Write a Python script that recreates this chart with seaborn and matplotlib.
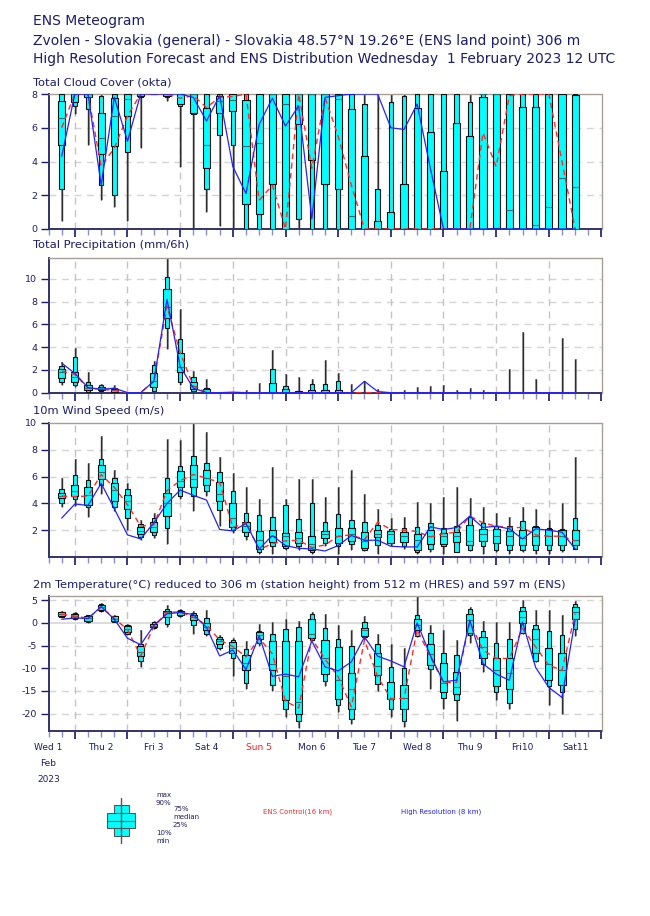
import numpy as np
import pandas as pd
import matplotlib
matplotlib.use("Agg")
import matplotlib.pyplot as plt
import matplotlib.transforms as mtransforms
from matplotlib.patches import Rectangle
import seaborn as sns

# ---------------- data ----------------
hours = list(range(6, 246, 6))  # hours after Wed 1 Feb 2023 12 UTC (40 steps)
day_labels = ["Wed 1", "Thu 2", "Fri 3", "Sat 4", "Sun 5", "Mon 6", "Tue 7",
              "Wed 8", "Thu 9", "Fri10", "Sat11"]

# Total cloud cover (okta)
cc_min = [0.45, 6.8, 4.95, 1.7, 1.3, 0.45, 4.8, 8, 7.6, 3.7, 0, 1.0, 0.2, 0, 0, 0, 0, 0, 0, 0,
          0, 0, 0, 0, 0, 0, 0, 0, 0, 0, 0, 0, 0, 0, 0, 0, 0, 0, 0, 0]
cc_p10 = [2.4, 7.3, 7.1, 2.6, 2.0, 4.55, 7.8, 8, 7.8, 7.3, 6.8, 2.35, 5.6, 4.95, 0, 0, 0, 0, 0.6, 0,
          0, 0, 0, 0, 0, 0, 0, 0, 0, 0, 0, 0, 0, 0, 0, 0, 0, 0, 0, 0]
cc_p25 = [5.0, 7.5, 7.8, 4.45, 4.9, 6.7, 7.9, 8, 7.9, 7.4, 6.85, 3.6, 6.85, 7.0, 1.5, 0.9, 2.65, 0, 6.2, 4.1,
          2.65, 2.4, 0, 0, 0, 0, 0, 0, 0, 0, 0, 0, 0, 0.05, 0, 0, 0, 0, 0, 0]
cc_med = [6.6, 8, 8, 5.4, 6.7, 7.7, 8, 8, 8, 8, 8, 5.0, 7.6, 7.65, 4.9, 5.1, 8, 7.4, 8, 8,
          8, 7.7, 0.8, 0, 0, 0, 0, 0, 0, 0, 0, 0, 8, 8, 1.1, 0, 0.25, 1.3, 3.0, 2.5]
cc_p75 = [7.6, 8, 8, 6.9, 7.75, 8, 8, 8, 8, 8, 8, 7.2, 7.9, 8, 7.65, 8, 8, 8, 8, 8,
          8, 8, 7.1, 4.3, 0.45, 1.0, 2.65, 7.2, 5.75, 3.45, 6.3, 5.5, 7.85, 8, 8, 7.25, 7.25, 8, 8, 7.95]
cc_p90 = [8, 8, 8, 7.9, 8, 8, 8, 8, 8, 8, 8, 8, 8, 8, 8, 8, 8, 8, 8, 8,
          8, 8, 8, 7.4, 2.4, 7.5, 7.9, 8, 8, 8, 8, 7.5, 8, 8, 8, 8, 8, 8, 8, 8]
cc_max = [8] * 40
cc_ctrl = [6.0, 8, 8, 3.7, 4.8, 6.7, 8, 8, 8, 7.75, 7.9, 7.2, 7.8, 7.85, 8, 1.7, 2.6, 0, 8, 3.6,
           7.8, 5.5, 2.6, 0, 0, 0, 0, 0, 0, 0, 0, 0, 5.7, 3.7, 7.9, 8, 8, 8, 4.0, 0]
cc_hres = [4.3, 8, 8, 2.6, 7.8, 5.2, 8, 8, 8, 8, 7.8, 6.4, 7.9, 3.7, 2.1, 6.2, 7.75, 6.1, 7.3, 0.6,
           7.8, 7.9, 8, 8, 8, 6.0, 5.9, 7.4, 3.6, 0, 0, 0, 0, 0, 0, 0, 0, 0, 0, 0]

# Total precipitation (mm/6h)
pr_min = [0.7, 0.5, 0, 0, 0, 0, 0, 0, 3.8, 0.7, 0, 0, 0, 0, 0, 0, 0, 0, 0, 0,
          0, 0, 0, 0, 0, 0, 0, 0, 0, 0, 0, 0, 0, 0, 0, 0, 0, 0, 0, 0]
pr_p10 = [0.95, 0.65, 0.1, 0.15, 0.05, 0, 0, 0.15, 5.7, 0.95, 0.15, 0, 0, 0, 0, 0, 0, 0, 0, 0,
          0, 0, 0, 0, 0, 0, 0, 0, 0, 0, 0, 0, 0, 0, 0, 0, 0, 0, 0, 0]
pr_p25 = [1.3, 0.95, 0.25, 0.25, 0.1, 0, 0, 0.5, 6.6, 1.85, 0.3, 0, 0, 0, 0, 0, 0, 0, 0, 0,
          0, 0, 0, 0, 0, 0, 0, 0, 0, 0, 0, 0, 0, 0, 0, 0, 0, 0, 0, 0]
pr_med = [1.85, 1.4, 0.4, 0.35, 0.2, 0, 0, 1.0, 7.55, 2.3, 0.6, 0.1, 0, 0, 0, 0, 0.05, 0.05, 0, 0,
          0, 0, 0, 0, 0, 0, 0, 0, 0, 0, 0, 0, 0, 0, 0, 0, 0, 0, 0, 0]
pr_p75 = [2.05, 1.85, 0.65, 0.5, 0.3, 0, 0, 1.7, 9.1, 3.45, 0.95, 0.3, 0, 0, 0, 0, 0.85, 0.3, 0.15, 0.25,
          0.2, 0.25, 0, 0, 0, 0, 0, 0, 0, 0, 0, 0, 0, 0, 0, 0, 0, 0, 0, 0]
pr_p90 = [2.35, 3.15, 0.95, 0.65, 0.45, 0, 0, 2.4, 10.15, 4.7, 1.4, 0.45, 0, 0, 0, 0, 2.05, 0.55, 0.15, 0.75,
          0.8, 1.0, 0, 0, 0, 0, 0, 0.05, 0.05, 0, 0, 0, 0, 0, 0, 0, 0, 0, 0, 0]
pr_max = [2.7, 3.9, 1.8, 0.8, 0.7, 0, 0, 2.8, 11.9, 7.35, 1.9, 1.2, 0, 0.1, 0.2, 0.85, 3.75, 1.65, 1.4, 1.2,
          2.85, 1.7, 0.8, 1.0, 0.3, 0, 0.2, 0.5, 0.55, 0.65, 0.2, 0.45, 0.2, 0.1, 2.1, 5.35, 1.2, 0, 4.8, 2.95]
pr_ctrl = [1.9, 1.6, 0.4, 0.3, 0.2, 0, 0, 1.0, 7.6, 3.5, 0.6, 0, 0, 0, 0, 0, 0, 0, 0, 0,
           0, 0, 0, 0, 0, 0, 0, 0, 0, 0, 0, 0, 0, 0, 0, 0, 0, 0, 0, 0]
pr_hres = [2.6, 1.7, 0.45, 0.3, 0.4, 0, 0, 1.0, 8.2, 2.3, 0.4, 0, 0, 0.05, 0, 0, 0, 0, 0, 0,
           0, 0, 0, 1.0, 0.1, 0, 0, 0, 0, 0, 0, 0, 0, 0, 0, 0, 0, 0, 0, 0]

# 10m wind speed (m/s)
ws_min = [3.75, 3.8, 3.0, 4.7, 3.45, 2.0, 1.3, 1.4, 1.0, 4.3, 3.4, 4.55, 2.35, 1.8, 1.3, 0.25, 0.25, 0.5, 0.5, 0.25,
          0.8, 0.25, 0.5, 0.45, 0.25, 0.8, 0.6, 0.25, 0.35, 0.25, 0.35, 0.45, 0.25, 0.35, 0.25, 0.35, 0.25, 0.25, 0.35, 0.8]
ws_p10 = [4.05, 4.35, 3.75, 5.35, 3.75, 2.9, 1.5, 1.65, 2.15, 4.55, 4.55, 4.9, 3.5, 2.0, 1.55, 0.4, 0.8, 0.7, 0.8, 0.35,
          1.05, 0.8, 1.0, 0.5, 0.9, 1.05, 0.8, 0.4, 0.6, 0.8, 0.4, 0.55, 0.8, 0.55, 0.55, 0.55, 0.55, 0.55, 0.55, 0.6]
ws_p25 = [4.4, 4.55, 3.85, 5.8, 4.15, 3.55, 1.7, 1.9, 3.05, 5.25, 5.2, 5.35, 4.2, 2.25, 1.9, 0.6, 1.15, 0.8, 1.05, 0.55,
          1.4, 1.05, 1.2, 0.7, 1.5, 1.05, 1.1, 0.55, 0.95, 0.95, 1.1, 0.9, 1.2, 1.05, 0.9, 0.9, 0.9, 0.9, 0.9, 0.9]
ws_med = [4.55, 4.9, 4.6, 6.35, 5.0, 4.2, 1.95, 2.25, 4.0, 5.65, 5.8, 5.9, 4.7, 2.9, 2.3, 1.3, 1.55, 1.55, 1.45, 1.0,
          1.7, 1.55, 1.7, 1.2, 1.7, 1.7, 1.55, 1.3, 1.55, 1.55, 1.55, 1.2, 1.7, 1.55, 1.55, 1.4, 1.55, 1.55, 1.55, 1.3]
ws_p75 = [4.75, 5.4, 5.25, 6.85, 5.55, 4.6, 2.25, 2.6, 4.8, 6.4, 6.9, 6.5, 5.6, 4.0, 2.6, 1.95, 2.0, 1.8, 1.85, 1.6,
          1.95, 2.2, 2.2, 1.9, 2.0, 1.95, 1.85, 1.7, 2.0, 1.8, 1.85, 2.4, 2.1, 2.1, 1.95, 2.0, 2.25, 2.1, 2.0, 2.0]
ws_p90 = [5.05, 6.15, 5.75, 7.3, 5.9, 5.05, 2.5, 2.9, 5.9, 6.8, 7.55, 7.05, 6.35, 4.9, 3.3, 3.15, 2.95, 3.85, 2.85, 4.05,
          2.6, 3.2, 2.75, 2.6, 2.4, 2.1, 2.2, 2.25, 2.55, 2.2, 2.35, 3.0, 2.55, 2.3, 2.3, 2.7, 2.35, 2.2, 2.1, 2.9]
ws_max = [5.9, 7.3, 7.0, 9.05, 6.5, 5.55, 2.75, 3.3, 8.8, 8.7, 10.2, 9.3, 7.45, 6.3, 5.2, 4.35, 6.7, 4.3, 5.8, 5.8,
          4.5, 5.25, 6.5, 4.7, 3.6, 2.9, 2.95, 4.1, 4.0, 4.5, 5.2, 4.4, 3.7, 3.3, 2.95, 3.7, 3.55, 2.75, 4.05, 7.5]
ws_ctrl = [4.55, 4.5, 4.55, 6.15, 5.2, 3.9, 2.3, 2.4, 4.95, 5.7, 6.15, 5.9, 5.55, 2.2, 2.55, 0.55, 1.0, 1.2, 1.25, 0.7,
           0.9, 1.55, 1.65, 1.3, 2.6, 2.05, 2.0, 1.9, 1.5, 1.75, 1.85, 3.05, 2.55, 2.3, 2.2, 2.2, 1.65, 1.55, 1.55, 1.2]
ws_hres = [2.9, 3.95, 3.85, 5.5, 3.6, 1.65, 1.35, 2.55, 4.0, 5.0, 4.6, 4.25, 2.05, 1.95, 2.5, 0.6, 1.6, 0.85, 0.65, 0.6,
           0.45, 0.85, 1.6, 1.25, 1.25, 0.8, 0.75, 0.75, 2.25, 2.05, 2.2, 3.05, 2.2, 2.3, 2.1, 1.35, 2.1, 2.0, 1.85, 0.6]

# 2m temperature (deg C)
t_min = [1.2, 0.7, 0.0, 2.4, 0.1, -2.6, -9.7, -1.4, -1.0, 1.3, -2.35, -2.95, -6.0, -11.75, -14.65, -5.05, -15.0, -20.75, -23.1, -3.95,
         -14.0, -19.6, -22.35, -3.8, -15.0, -20.75, -22.95, -3.1, -14.7, -19.1, -21.6, -4.4, -10.8, -17.05, -19.05, -2.35, -8.6, -18.15, -20.0, -2.95]
t_p10 = [1.4, 0.9, 0.2, 2.6, 0.3, -2.35, -8.4, -1.2, -0.15, 1.5, -0.4, -2.35, -5.65, -7.65, -13.25, -4.35, -13.8, -19.1, -21.6, -3.8,
         -12.8, -18.15, -21.25, -3.1, -13.5, -18.9, -21.6, -2.95, -10.2, -16.5, -17.05, -2.7, -9.1, -15.2, -17.6, -2.15, -8.4, -13.9, -15.2, -1.25]
t_p25 = [1.55, 1.1, 0.45, 2.8, 0.45, -2.0, -7.35, -1.0, 1.2, 1.75, 0.6, -1.6, -4.55, -6.6, -10.45, -3.6, -10.3, -17.05, -20.15, -3.3,
         -11.3, -16.9, -19.1, -2.85, -11.55, -16.9, -19.1, -1.6, -9.35, -15.35, -15.8, -2.15, -7.85, -13.9, -14.5, 0.05, -6.6, -12.65, -13.6, 0.8]
t_med = [1.9, 1.5, 1.0, 3.4, 0.95, -1.3, -6.4, -0.6, 2.4, 2.3, 1.3, -0.9, -3.95, -5.65, -8.95, -2.7, -9.0, -11.75, -17.4, -2.35,
         -7.65, -12.65, -14.5, -1.6, -9.55, -16.7, -16.55, -0.5, -6.8, -13.2, -14.25, 0.6, -5.3, -10.5, -11.0, 1.3, -3.5, -9.0, -10.3, 2.4]
t_p75 = [2.3, 1.9, 1.55, 3.9, 1.45, -0.75, -5.15, -0.15, 2.65, 2.7, 1.85, 0.0, -3.5, -4.25, -7.1, -2.05, -3.95, -3.95, -3.95, 0.75,
         -3.7, -5.3, -10.95, -1.05, -6.6, -13.0, -13.75, 0.95, -4.55, -8.75, -10.8, 2.05, -3.1, -7.85, -7.85, 2.55, -1.25, -5.45, -6.55, 3.55]
t_p90 = [2.45, 2.1, 1.7, 4.1, 1.55, -0.4, -4.55, 0.15, 3.15, 2.95, 2.2, 1.1, -3.1, -3.7, -5.8, -1.75, -2.35, -1.25, -0.9, 2.05,
         -1.05, -3.6, -5.05, 0.2, -4.55, -9.7, -9.85, 1.7, -2.2, -6.6, -7.0, 3.0, -1.75, -4.35, -3.45, 3.4, -0.5, -1.85, -2.7, 4.25]
t_max = [2.65, 2.3, 1.85, 4.4, 1.7, -0.15, -1.6, 0.35, 3.9, 3.15, 2.65, 2.95, -2.7, -3.3, -3.95, -0.35, 0.2, 0.75, 0.35, 2.4,
         1.9, -0.5, -1.6, 1.5, -2.35, -4.7, -5.65, 5.9, -0.5, -1.6, -3.8, 3.5, 0.45, 0.2, 0.2, 5.0, 2.95, 2.8, 1.7, 4.85]
t_ctrl = [1.9, 1.5, 1.0, 3.5, 1.0, -1.5, -7.3, -0.8, 2.35, 2.4, 1.3, -0.5, -3.8, -5.2, -7.5, -3.4, -6.8, -17.3, -18.8, -3.5,
          -8.0, -11.9, -18.5, -3.8, -11.9, -16.7, -16.7, -1.45, -7.5, -13.15, -13.15, 0.2, -6.0, -7.85, -7.85, -1.25, -5.3, -9.35, -10.45, 2.05]
t_hres = [0.8, 1.1, 0.95, 3.6, 0.8, -3.4, -4.8, -0.6, 2.0, 2.3, 1.85, -1.0, -7.3, -6.0, -10.3, -2.8, -11.8, -11.3, -11.9, -4.0,
          -9.7, -10.6, -8.6, -3.1, -7.35, -8.4, -9.7, 0.0, -7.2, -13.0, -12.65, 0.6, -9.0, -11.3, -12.65, 0.2, -9.85, -14.25, -16.45, 0.75]

# ---------------- style ----------------
sns.set_theme(style="white")
plt.rcParams['font.family'] = ['DejaVu Sans']

NAVY = '#1c1c6c'
W, H = 650, 916
fig = plt.figure(figsize=(6.5, 9.16), dpi=100)


def fx(px):
    return px / W


def fy(py):
    return 1 - py / H


def make_ax(top, bottom):
    return fig.add_axes([fx(48.5), fy(bottom), fx(601.5) - fx(48.5), (bottom - top) / H])


def draw_panel(ax, mn, p10, p25, med, p75, p90, mx, ctrl, hres, ylim, yticks, zero_line=False):
    x = np.array(hours, dtype=float)
    mn, p10, p25, med, p75, p90, mx = [np.array(a, dtype=float) for a in (mn, p10, p25, med, p75, p90, mx)]
    ax.set_xlim(0, 252)
    ax.set_ylim(*ylim)
    # whiskers and boxes
    ax.vlines(x + 0.35, mn, mx, colors='#9a9a9a', lw=1.4, zorder=2)
    ax.vlines(x, mn, mx, colors='#2e2e2e', lw=1.0, zorder=2)
    ax.bar(x, p90 - p10, bottom=p10, width=2.1, color='#00ffff', edgecolor='#111111', lw=0.8, zorder=3)
    ax.bar(x, p75 - p25, bottom=p25, width=3.3, color='#00ffff', edgecolor='#111111', lw=0.8, zorder=3)
    ax.hlines(med, x - 1.65, x + 1.65, colors='#2a6f6f', lw=0.8, zorder=4)
    df = pd.DataFrame({'hour': x, 'ctrl': ctrl, 'hres': hres})
    sns.lineplot(data=df, x='hour', y='ctrl', ax=ax, color='#ff2a2a', lw=1.0,
                 linestyle=(0, (4, 3)), zorder=5)
    sns.lineplot(data=df, x='hour', y='hres', ax=ax, color='#2323ff', lw=0.9, zorder=6)
    ax.set_xlabel('')
    ax.set_ylabel('')
    # ticks & grid
    ax.set_yticks(yticks)
    ax.set_yticklabels([str(t) for t in yticks])
    ax.set_xticks(list(range(12, 253, 24)))
    ax.set_xticks(list(range(0, 253, 6)), minor=True)
    ax.set_xticklabels([])
    ax.tick_params(axis='y', which='major', direction='out', length=6, width=1.0,
                   color=NAVY, labelcolor=NAVY, labelsize=6.8, pad=2, left=True)
    ax.tick_params(axis='x', which='major', direction='out', length=5.5, width=1.3,
                   color='#2a2a7a', bottom=True)
    ax.tick_params(axis='x', which='minor', direction='out', length=4.5, width=1.0,
                   color='#8c8cc8', bottom=True)
    ax.grid(False)
    for yv in yticks:
        if ylim[0] < yv < ylim[1]:
            if zero_line and yv == 0:
                ax.axhline(0, color='#d9d9d9', lw=1.3, zorder=1)
            else:
                ax.axhline(yv, color='#d4d4d4', lw=1.0, ls=(0, (5, 4)), zorder=1)
    for xv in range(12, 252, 24):
        ax.axvline(xv, color='#c4c4c4', lw=1.0, ls=(0, (5, 4)), zorder=1)
    for s in ('left', 'bottom'):
        ax.spines[s].set_color('#33336e')
        ax.spines[s].set_linewidth(1.4)
    for s in ('top', 'right'):
        ax.spines[s].set_color('#a89f94')
        ax.spines[s].set_linewidth(1.0)
    ax.set_facecolor('white')


ax1 = make_ax(94, 229)
draw_panel(ax1, cc_min, cc_p10, cc_p25, cc_med, cc_p75, cc_p90, cc_max, cc_ctrl, cc_hres,
           (0, 8), [0, 2, 4, 6, 8])
ax2 = make_ax(258.3, 392.7)
draw_panel(ax2, pr_min, pr_p10, pr_p25, pr_med, pr_p75, pr_p90, pr_max, pr_ctrl, pr_hres,
           (0, 11.8), [0, 2, 4, 6, 8, 10])
ax3 = make_ax(423, 557)
draw_panel(ax3, ws_min, ws_p10, ws_p25, ws_med, ws_p75, ws_p90, ws_max, ws_ctrl, ws_hres,
           (0, 10), [2, 4, 6, 8, 10])
ax4 = make_ax(595.7, 730.5)
draw_panel(ax4, t_min, t_p10, t_p25, t_med, t_p75, t_p90, t_max, t_ctrl, t_hres,
           (-23.75, 6.0), [-20, -15, -10, -5, 0, 5], zero_line=True)

# day labels under the temperature panel
trans = mtransforms.blended_transform_factory(ax4.transData, fig.transFigure)
for k, lab in enumerate(day_labels):
    ax4.text(24 * k, fy(747), lab, transform=trans, ha='center', va='center',
             fontsize=6.5, color=('#ff1a1a' if lab.startswith('Sun') else NAVY), clip_on=False)
fig.text(fx(48.5), fy(763), 'Feb', ha='center', va='center', fontsize=6.5, color=NAVY)
fig.text(fx(48.5), fy(779), '2023', ha='center', va='center', fontsize=6.5, color=NAVY)

# titles
fig.text(fx(33), fy(21), 'ENS Meteogram', ha='left', va='center', fontsize=10, color=NAVY)
fig.text(fx(33), fy(40.5),
         'Zvolen - Slovakia (general) - Slovakia 48.57°N 19.26°E (ENS land point) 306 m',
         ha='left', va='center', fontsize=10, color=NAVY)
fig.text(fx(33), fy(59.5),
         'High Resolution Forecast and ENS Distribution Wednesday  1 February 2023 12 UTC',
         ha='left', va='center', fontsize=10, color=NAVY)
panel_titles = [(82.5, 'Total Cloud Cover (okta)'),
                (245, 'Total Precipitation (mm/6h)'),
                (411, '10m Wind Speed (m/s)'),
                (584.5, '2m Temperature(°C) reduced to 306 m (station height) from 512 m (HRES) and 597 m (ENS)')]
for yy, t in panel_titles:
    fig.text(fx(33), fy(yy), t, ha='left', va='center', fontsize=8.25, color=NAVY)

# legend (box glyph explanation)
lax = fig.add_axes([0, 0, 1, 1], zorder=-1)
lax.set_xlim(0, W)
lax.set_ylim(H, 0)
lax.axis('off')
lax.plot([121.3, 121.3], [798, 843], color='#555555', lw=1.0)
lax.add_patch(Rectangle((114.3, 805), 14.4, 31, facecolor='#00ffff', edgecolor='#555555', lw=0.8))
lax.add_patch(Rectangle((107.3, 813), 28, 15, facecolor='#00ffff', edgecolor='#555555', lw=0.8))
lax.plot([107.3, 135.3], [820.5, 820.5], color='#2a6f6f', lw=0.8)
for (xx, yy, t) in [(156, 795, 'max'), (156, 803, '90%'), (173, 809, '75%'), (173, 817, 'median'),
                    (173, 825, '25%'), (156, 833, '10%'), (156, 841, 'min')]:
    lax.text(xx, yy, t, ha='left', va='center', fontsize=5, color=NAVY)
lax.text(263, 812, 'ENS Control(16 km)', ha='left', va='center', fontsize=5, color='#ff2a2a')
lax.text(401, 812, 'High Resolution (8 km)', ha='left', va='center', fontsize=5, color='#2323ff')

fig.savefig('out.png', dpi=100, facecolor='white')
